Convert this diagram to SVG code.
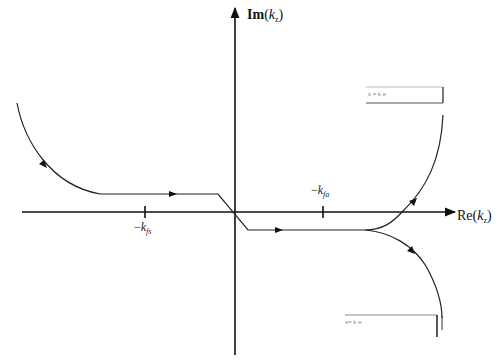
<svg xmlns="http://www.w3.org/2000/svg" width="502" height="360" viewBox="0 0 502 360">
<defs>
<style>
.ax{stroke:#111;stroke-width:1.6;fill:none}
.cv{stroke:#222;stroke-width:1.2;fill:none}
.hd{fill:#111}
.lb{font-family:"Liberation Serif",serif;font-size:14px;fill:#111}
.sm{font-family:"Liberation Serif",serif;font-size:12px;fill:#222}
.tiny{font-family:"Liberation Sans",sans-serif;font-size:6px;fill:#888}
</style>
<marker id="ah" viewBox="0 0 10 10" refX="9" refY="5" markerWidth="7" markerHeight="7" orient="auto"><path d="M0,1 L10,5 L0,9 z" fill="#111"/></marker>
</defs>
<rect width="502" height="360" fill="#fff"/>
<g id="connectors">
<line class="ax" x1="22" y1="212" x2="455" y2="212" marker-end="url(#ah)"/>
<line class="ax" x1="235" y1="355" x2="235" y2="8" marker-end="url(#ah)"/>
<line class="ax" x1="145" y1="206" x2="145" y2="218"/>
<line class="ax" x1="323" y1="206" x2="323" y2="218"/>
<path class="cv" d="M17,103 C24,140 50,185 100,194 L218,194 L248,230 L365,230"/>
<path class="cv" d="M365,230 C383,230 393,222 403,211 C426,189 441,160 443,115"/>
<path class="cv" d="M365,230 C390,232 413,245 426,266 C437,286 442,305 442,318"/>
<polygon class="hd" points="47,168 39,164 44,160" />
<polygon class="hd" points="177,194 169,191 169,197"/>
<polygon class="hd" points="283,230 275,227 275,233"/>
<polygon class="hd" points="417,198 409,201 414,206"/>
<polygon class="hd" points="415,254 407,251 412,246"/>
</g>
<g id="label-im"><text class="lb" x="247" y="19"><tspan font-weight="bold">Im</tspan>(<tspan font-style="italic">k</tspan><tspan font-size="8" dy="3">z</tspan><tspan dy="-3">)</tspan></text></g>
<g id="label-re"><text class="lb" x="457" y="220">Re(<tspan font-style="italic">k</tspan><tspan font-size="8" dy="3">z</tspan><tspan dy="-3">)</tspan></text></g>
<g id="label-kfs"><text class="sm" x="134" y="231">−<tspan font-style="italic">k</tspan><tspan font-size="8" dy="3" font-style="italic">fs</tspan></text></g>
<g id="label-kfa"><text class="sm" x="311" y="194">−<tspan font-style="italic">k</tspan><tspan font-size="8" dy="3" font-style="italic">fa</tspan></text></g>
<g id="box-top">
<line x1="366" y1="87" x2="443" y2="87" stroke="#bbb" stroke-width="1"/>
<line x1="443" y1="87" x2="443" y2="103" stroke="#333" stroke-width="1.3"/>
<line x1="366" y1="103" x2="443" y2="103" stroke="#555" stroke-width="1"/>
<text class="tiny" x="368" y="96">s = k·e</text>
</g>
<g id="box-bottom">
<line x1="345" y1="315" x2="437" y2="315" stroke="#888" stroke-width="1"/>
<line x1="437" y1="315" x2="437" y2="337" stroke="#111" stroke-width="1.4"/>
<line x1="442" y1="316" x2="442" y2="330" stroke="#333" stroke-width="1"/>
<text class="tiny" x="345" y="324">s=  k·e</text>
</g>
</svg>
